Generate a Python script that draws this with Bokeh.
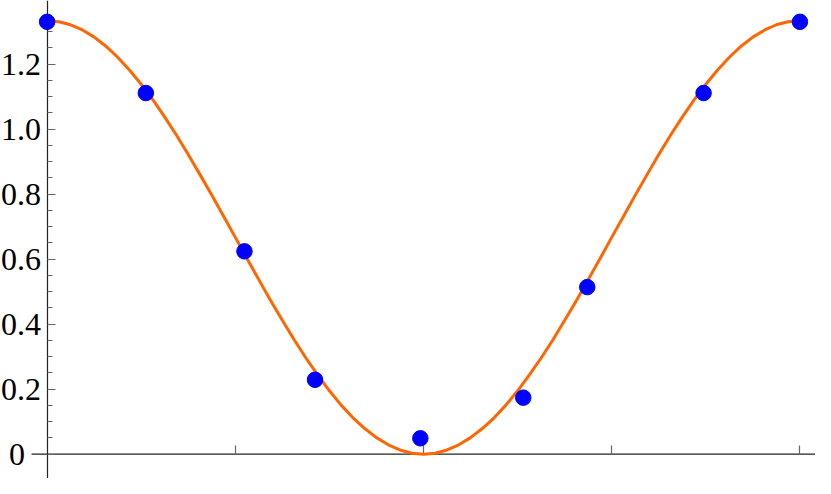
from bokeh.plotting import figure
from bokeh.models import LinearAxis, FixedTicker, Range1d, CustomJSTickFormatter
from bokeh.embed import file_html
from bokeh.resources import INLINE

# sampled points (x in radians)
pts_x = [0.0, 0.824, 1.647, 2.236, 3.115, 3.974, 4.508, 5.479, 6.283]
pts_y = [1.33, 1.111, 0.624, 0.229, 0.049, 0.174, 0.514, 1.111, 1.33]

# fitted curve
curve_x = [0.0, 0.098, 0.196, 0.295, 0.393, 0.491, 0.589, 0.687, 0.785, 0.884,
           0.982, 1.080, 1.178, 1.276, 1.374, 1.473, 1.571, 1.669, 1.767, 1.865,
           1.963, 2.062, 2.160, 2.258, 2.356, 2.454, 2.553, 2.651, 2.749, 2.847,
           2.945, 3.043, 3.142, 3.240, 3.338, 3.436, 3.534, 3.632, 3.731, 3.829,
           3.927, 4.025, 4.123, 4.222, 4.320, 4.418, 4.516, 4.614, 4.712, 4.811,
           4.909, 5.007, 5.105, 5.203, 5.301, 5.400, 5.498, 5.596, 5.694, 5.792,
           5.890, 5.989, 6.087, 6.185, 6.283]
curve_y = [1.333, 1.330, 1.321, 1.305, 1.283, 1.255, 1.221, 1.182, 1.138, 1.090,
           1.037, 0.981, 0.922, 0.860, 0.797, 0.732, 0.667, 0.601, 0.537, 0.473,
           0.412, 0.352, 0.296, 0.244, 0.195, 0.151, 0.112, 0.079, 0.051, 0.029,
           0.013, 0.003, 0.000, 0.003, 0.013, 0.029, 0.051, 0.079, 0.112, 0.151,
           0.195, 0.244, 0.296, 0.352, 0.412, 0.473, 0.537, 0.601, 0.667, 0.732,
           0.797, 0.860, 0.922, 0.981, 1.037, 1.090, 1.138, 1.182, 1.221, 1.255,
           1.283, 1.305, 1.321, 1.330, 1.333]

x_ticks = [1.5708, 3.1416, 4.7124, 6.2832]
y_ticks = [0.0, 0.2, 0.4, 0.6, 0.8, 1.0, 1.2]
y_labels = ["0\u00a0\u00a0", "0.2", "0.4", "0.6", "0.8", "1.0", "1.2"]
y_minor = [0.05, 0.1, 0.15, 0.25, 0.3, 0.35, 0.45, 0.5, 0.55, 0.65, 0.7, 0.75,
           0.85, 0.9, 0.95, 1.05, 1.1, 1.15, 1.25, 1.3]

X0, X1 = -0.389, 6.413
AXIS_START = -0.13   # where the horizontal axis line begins (left of the y axis)

p = figure(width=815, height=478, output_backend="svg", toolbar_location=None,
           x_axis_location=None, y_axis_location=None, min_border=0,
           x_range=Range1d(X0, X1), y_range=Range1d(-0.0747, 1.3956))
p.outline_line_color = None
p.xgrid.visible = False
p.ygrid.visible = False
p.background_fill_color = "white"

FONT = "Liberation Serif"

# horizontal axis line (starts a little left of the vertical axis)
p.segment(x0=[AXIS_START], y0=[0], x1=[X1], y1=[0], line_color="#222222",
          line_width=1.2, level="underlay")

xa = LinearAxis(fixed_location=0, level="underlay")
xa.ticker = FixedTicker(ticks=x_ticks)
xa.formatter = CustomJSTickFormatter(code="return ''")
xa.axis_line_color = None
xa.major_tick_in = 9
xa.major_tick_out = 0
xa.major_tick_line_color = "#666666"
xa.major_tick_line_width = 1.2
xa.minor_tick_line_color = None
xa.major_label_text_font_size = "1px"
p.add_layout(xa, "below")

ya = LinearAxis(fixed_location=0, level="underlay")
ya.ticker = FixedTicker(ticks=y_ticks, minor_ticks=y_minor)
ya.major_label_overrides = dict(zip(y_ticks, y_labels))
ya.axis_line_color = "#222222"
ya.axis_line_width = 1.2
ya.major_tick_in = 8
ya.major_tick_out = 0
ya.minor_tick_in = 5
ya.minor_tick_out = 0
ya.major_tick_line_color = "#666666"
ya.minor_tick_line_color = "#666666"
ya.major_tick_line_width = 1.2
ya.minor_tick_line_width = 1.2
ya.major_label_text_font = FONT
ya.major_label_text_font_size = "32px"
ya.major_label_text_color = "black"
ya.major_label_standoff = 6
p.add_layout(ya, "left")

p.line(curve_x, curve_y, line_color="#FF6600", line_width=3, line_join="round")
p.scatter(pts_x, pts_y, size=15.5, fill_color="#0000FF", line_color="#0000FF")

open("out.html", "w").write(file_html(p, INLINE))
